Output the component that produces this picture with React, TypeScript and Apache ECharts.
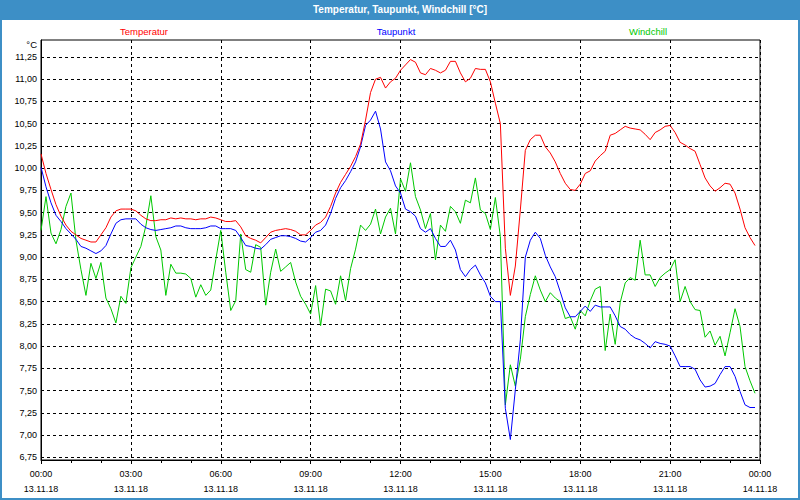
import React, { useEffect, useRef } from "react";
import * as echarts from "echarts";

const titleText = "Temperatur, Taupunkt, Windchill [°C]";
const seriesNames = ["Temperatur", "Taupunkt", "Windchill"];
const seriesColors = ["#ff0000", "#0000ff", "#00c800"];
const stepMinutes = 10;
const yTicks = [6.75, 7.0, 7.25, 7.5, 7.75, 8.0, 8.25, 8.5, 8.75, 9.0, 9.25, 9.5, 9.75, 10.0, 10.25, 10.5, 10.75, 11.0, 11.25];

const temperatur = [
  10.16, 9.94, 9.76, 9.59, 9.46, 9.36,
  9.29, 9.25, 9.21, 9.19, 9.17, 9.17,
  9.25, 9.33, 9.45, 9.52, 9.54, 9.54,
  9.54, 9.52, 9.47, 9.43, 9.41, 9.41,
  9.42, 9.42, 9.44, 9.43, 9.44, 9.43,
  9.43, 9.42, 9.43, 9.43, 9.45, 9.44,
  9.42, 9.40, 9.40, 9.41, 9.34, 9.24,
  9.21, 9.19, 9.16, 9.22, 9.28, 9.30,
  9.31, 9.32, 9.31, 9.29, 9.25, 9.25,
  9.30, 9.36, 9.39, 9.45, 9.57, 9.72,
  9.84, 9.93, 10.02, 10.13, 10.27, 10.54,
  10.85, 11.00, 11.02, 10.90, 10.97, 11.01,
  11.10, 11.16, 11.22, 11.19, 11.07, 11.05,
  11.12, 11.10, 11.07, 11.10, 11.20, 11.20,
  11.07, 10.97, 11.01, 11.12, 11.11, 11.11,
  10.97, 10.73, 10.50, 9.10, 8.57, 8.90,
  9.53, 10.20, 10.32, 10.37, 10.37, 10.24,
  10.17, 10.07, 9.94, 9.83, 9.76, 9.75,
  9.82, 9.94, 9.97, 10.08, 10.14, 10.19,
  10.37, 10.39, 10.43, 10.47, 10.45, 10.44,
  10.43, 10.38, 10.32, 10.40, 10.43, 10.47,
  10.48, 10.40, 10.29, 10.26, 10.22, 10.19,
  10.04, 9.89, 9.80, 9.74, 9.78, 9.83,
  9.82, 9.72, 9.54, 9.33, 9.22, 9.13,
];

const taupunkt = [
  10.01, 9.79, 9.61, 9.47, 9.40, 9.32,
  9.26, 9.20, 9.12, 9.10, 9.07, 9.04,
  9.07, 9.13, 9.26, 9.38, 9.42, 9.43,
  9.43, 9.43, 9.37, 9.33, 9.31, 9.30,
  9.31, 9.32, 9.33, 9.35, 9.35, 9.33,
  9.32, 9.32, 9.32, 9.33, 9.35, 9.35,
  9.32, 9.32, 9.32, 9.30, 9.22, 9.13,
  9.12, 9.10, 9.09, 9.14, 9.20, 9.22,
  9.24, 9.24, 9.23, 9.21, 9.18, 9.17,
  9.22, 9.28, 9.30, 9.36, 9.49, 9.66,
  9.78, 9.86, 9.96, 10.07, 10.24, 10.48,
  10.54, 10.64, 10.44, 10.07, 9.97, 9.80,
  9.72, 9.54, 9.51, 9.46, 9.32, 9.28,
  9.32, 9.21, 9.12, 9.12, 9.19, 9.08,
  8.86, 8.78, 8.86, 8.91, 8.80, 8.71,
  8.56, 8.50, 8.50, 7.30, 6.95, 7.51,
  8.07, 9.00, 9.19, 9.28, 9.21, 9.02,
  8.89, 8.78, 8.61, 8.43, 8.33, 8.33,
  8.39, 8.45, 8.39, 8.46, 8.44, 8.44,
  8.44, 8.34, 8.22, 8.19, 8.13, 8.09,
  8.07, 8.03, 7.98, 8.05, 8.03, 8.02,
  8.00, 7.89, 7.77, 7.77, 7.77, 7.74,
  7.62, 7.54, 7.55, 7.58, 7.68, 7.77,
  7.77, 7.66, 7.49, 7.34, 7.31, 7.31,
];

const windchill = [
  9.30, 9.68, 9.27, 9.15, 9.31, 9.57,
  9.72, 9.19, 8.86, 8.57, 8.93, 8.76,
  8.94, 8.54, 8.42, 8.26, 8.56, 8.48,
  8.88, 9.00, 9.12, 9.35, 9.69, 9.23,
  9.08, 8.57, 8.92, 8.82, 8.82, 8.81,
  8.76, 8.55, 8.69, 8.57, 8.63, 8.97,
  9.30, 8.83, 8.40, 8.51, 9.26, 8.86,
  8.83, 9.14, 9.11, 8.46, 8.83, 9.09,
  8.84, 8.89, 8.94, 8.72, 8.56, 8.47,
  8.36, 8.68, 8.23, 8.64, 8.62, 8.47,
  8.79, 8.51, 8.87, 9.09, 9.36, 9.30,
  9.37, 9.54, 9.26, 9.45, 9.55, 9.26,
  9.88, 9.74, 10.06, 9.68, 9.53, 9.32,
  9.49, 8.97, 9.36, 9.29, 9.57, 9.51,
  9.38, 9.64, 9.61, 9.89, 9.53, 9.49,
  9.31, 9.67, 9.23, 7.34, 7.79, 7.55,
  7.85, 8.33, 8.58, 8.79, 8.63, 8.50,
  8.60, 8.54, 8.50, 8.31, 8.33, 8.19,
  8.40, 8.34, 8.51, 8.64, 8.67, 7.95,
  8.36, 8.02, 8.49, 8.71, 8.77, 8.74,
  9.19, 8.80, 8.80, 8.67, 8.77, 8.82,
  8.86, 8.97, 8.50, 8.67, 8.50, 8.41,
  8.40, 8.10, 8.17, 8.01, 8.11, 7.89,
  8.15, 8.42, 8.22, 7.77, 7.61, 7.47,
];

const FONT = "'Liberation Sans', Arial, sans-serif";

function toPairs(values: number[]) {
  return values.map((v, i) => [i * stepMinutes, v]);
}

function timeLabel(m: number) {
  const h = Math.floor(m / 60) % 24;
  const mm = m % 60;
  const day = m >= 1440 ? "14.11.18" : "13.11.18";
  return `${String(h).padStart(2, "0")}:${String(mm).padStart(2, "0")}\n${day}`;
}

export default function App() {
  const ref = useRef<HTMLDivElement>(null);
  useEffect(() => {
    document.body.style.margin = "0";
    if (!ref.current) return;
    const chart = echarts.init(ref.current, null, { renderer: "svg" });
    const legendX = [144, 396, 648];
    const allSeries = [temperatur, taupunkt, windchill];
    chart.setOption({
      animation: false,
      backgroundColor: "#ffffff",
      grid: {
        left: 41,
        right: 40,
        top: 40,
        bottom: 40,
        show: true,
        borderColor: "#000",
        borderWidth: 1,
        backgroundColor: "transparent",
      },
      xAxis: {
        type: "value",
        min: 0,
        max: 1440,
        interval: 180,
        axisLine: { show: true, onZero: false, lineStyle: { color: "#000", width: 1 } },
        axisTick: { show: true, length: 4, lineStyle: { color: "#000" } },
        minorTick: { show: true, splitNumber: 3, length: 3, lineStyle: { color: "#000" } },
        splitLine: { show: true, lineStyle: { color: "#000", type: [3, 3], width: 1 } },
        axisLabel: {
          color: "#000",
          fontFamily: FONT,
          fontSize: 9,
          lineHeight: 15,
          margin: 6,
          formatter: (v: number) => timeLabel(v),
        },
      },
      yAxis: {
        type: "value",
        min: 6.72,
        max: 11.44,
        axisLine: { show: true, lineStyle: { color: "#000", width: 1 } },
        axisTick: { show: false, customValues: yTicks },
        splitLine: { show: true, lineStyle: { color: "#000", type: [3, 3], width: 1 } },
        axisLabel: {
          color: "#000",
          fontFamily: FONT,
          fontSize: 9,
          margin: 4,
          customValues: yTicks,
          formatter: (v: number) => v.toFixed(2).replace(".", ","),
        },
      },
      graphic: [
        { type: "rect", shape: { x: 0, y: 0, width: 800, height: 20 }, style: { fill: "#3d8fc6" }, z: 10 },
        {
          type: "rect",
          shape: { x: 1, y: 1, width: 798, height: 498 },
          style: { fill: "none", stroke: "#3d8fc6", lineWidth: 2 },
          z: 10,
        },
        {
          type: "text",
          x: 400,
          y: 9,
          style: {
            text: titleText,
            fill: "#ffffff",
            font: `bold 10px ${FONT}`,
            align: "center",
            verticalAlign: "middle",
          },
          z: 11,
        },
        {
          type: "text",
          x: 37,
          y: 44,
          style: { text: "°C", fill: "#000", font: `9.5px ${FONT}`, align: "right", verticalAlign: "middle" },
        },
        ...seriesNames.map((n, i) => ({
          type: "text",
          x: legendX[i],
          y: 31,
          style: {
            text: n,
            fill: seriesColors[i],
            font: `9.5px ${FONT}`,
            align: "center",
            verticalAlign: "middle",
          },
        })),
      ],
      series: allSeries.map((vals, i) => ({
        name: seriesNames[i],
        type: "line",
        data: toPairs(vals),
        showSymbol: false,
        symbol: "none",
        lineStyle: { color: seriesColors[i], width: 1 },
        itemStyle: { color: seriesColors[i] },
        z: 3 - i,
      })),
    });
    return () => chart.dispose();
  }, []);
  return <div ref={ref} style={{ width: 800, height: 500 }} />;
}
